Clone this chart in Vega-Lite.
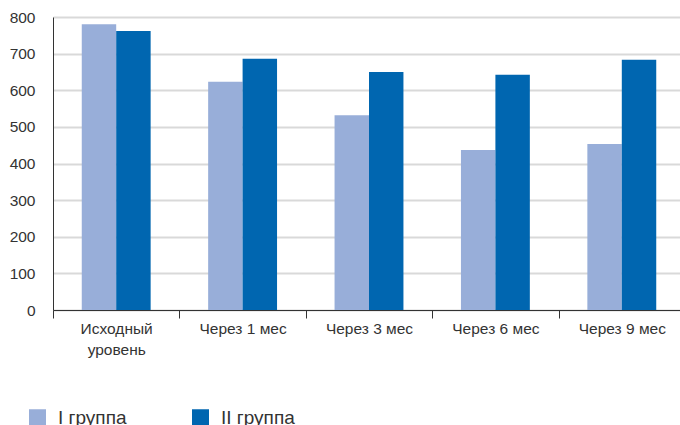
{
  "$schema": "https://vega.github.io/schema/vega-lite/v6.json",
  "autosize": {"type": "none"},
  "padding": {"left": 53, "top": 17, "right": 0, "bottom": 115},
  "width": 627,
  "height": 293,
  "background": "white",
  "config": {
    "view": {"stroke": null},
    "font": "Liberation Sans"
  },
  "data": {
    "values": [
      {"period": "Исходный уровень", "group": "I группа", "value": 780},
      {"period": "Исходный уровень", "group": "II группа", "value": 762},
      {"period": "Через 1 мес", "group": "I группа", "value": 623},
      {"period": "Через 1 мес", "group": "II группа", "value": 686},
      {"period": "Через 3 мес", "group": "I группа", "value": 532},
      {"period": "Через 3 мес", "group": "II группа", "value": 650},
      {"period": "Через 6 мес", "group": "I группа", "value": 437},
      {"period": "Через 6 мес", "group": "II группа", "value": 642},
      {"period": "Через 9 мес", "group": "I группа", "value": 453},
      {"period": "Через 9 мес", "group": "II группа", "value": 683}
    ]
  },
  "mark": {"type": "bar"},
  "encoding": {
    "x": {
      "field": "period",
      "type": "nominal",
      "sort": null,
      "title": null,
      "scale": {"range": [0, 632], "paddingInner": 0.455, "paddingOuter": 0.2275},
      "axis": {
        "labelAngle": 0,
        "ticks": true,
        "tickSize": 8,
        "tickWidth": 1,
        "tickColor": "#333333",
        "tickOffset": -63.2,
        "labelOffset": 63.2,
        "domainColor": "#333333",
        "labelFontSize": 15.5,
        "labelColor": "#333333",
        "labelPadding": 3,
        "labelLineHeight": 21.5,
        "labelExpr": "datum.label == 'Исходный уровень' ? ['Исходный', 'уровень'] : datum.label"
      }
    },
    "xOffset": {"field": "group", "type": "nominal", "scale": {"paddingInner": 0, "paddingOuter": 0}},
    "y": {
      "field": "value",
      "type": "quantitative",
      "title": null,
      "scale": {"domain": [0, 800], "nice": false},
      "axis": {
        "values": [0, 100, 200, 300, 400, 500, 600, 700, 800],
        "ticks": false,
        "domainColor": "#333333",
        "gridColor": "#d9d9d9",
        "gridWidth": 2,
        "labelFontSize": 15.5,
        "labelColor": "#333333",
        "labelPadding": 18
      }
    },
    "color": {
      "field": "group",
      "type": "nominal",
      "title": null,
      "scale": {"domain": ["I группа", "II группа"], "range": ["#98aed9", "#0066b0"]},
      "legend": {
        "orient": "none",
        "direction": "horizontal",
        "columns": 2,
        "legendX": -25,
        "legendY": 391,
        "padding": 0,
        "symbolType": "square",
        "symbolSize": 289,
        "symbolStrokeWidth": 0,
        "symbolOpacity": 1,
        "labelFontSize": 19,
        "labelColor": "#333333",
        "labelOffset": 11,
        "columnPadding": 64
      }
    }
  }
}
